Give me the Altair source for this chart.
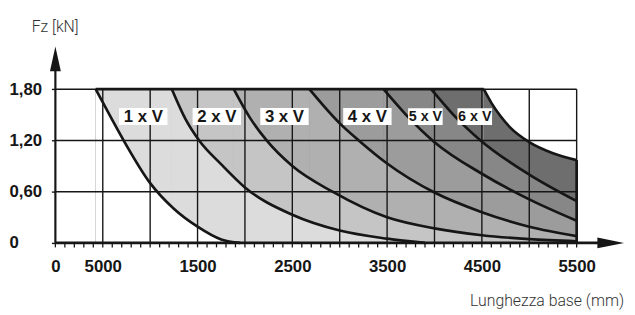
import altair as alt
import pandas as pd

# ---- data (x: base length in mm, y: Fz in kN) ----
c1_x = [425, 600, 720, 1000, 1250, 1500, 1750, 1950]
c1_y = [1.80, 1.44, 1.20, 0.70, 0.40, 0.19, 0.04, 0.0]
c2_x = [1229, 1373, 1517, 1750, 2000, 2500, 3000, 3500, 3900]
c2_y = [1.80, 1.45, 1.20, 0.92, 0.65, 0.33, 0.145, 0.05, 0.0]
c3_x = [1882, 2050, 2229, 2500, 2924, 3500, 4000, 4500, 5000, 5500]
c3_y = [1.80, 1.47, 1.20, 0.90, 0.60, 0.30, 0.17, 0.09, 0.045, 0.02]
c4_x = [2680, 3000, 3201, 3500, 4000, 4500, 5000, 5500]
c4_y = [1.80, 1.40, 1.20, 0.93, 0.59, 0.36, 0.19, 0.08]
c5_x = [3462, 3700, 4000, 4500, 5000, 5500]
c5_y = [1.80, 1.50, 1.18, 0.81, 0.51, 0.26]
c6_x = [3965, 4200, 4486, 5000, 5500]
c6_y = [1.80, 1.50, 1.20, 0.80, 0.49]
env_x = [4520, 4600, 4700, 4800, 5000, 5250, 5500]
env_y = [1.80, 1.64, 1.48, 1.35, 1.18, 1.05, 0.97]

labels = ["1 x V", "2 x V", "3 x V", "4 x V", "5 x V", "6 x V"]
label_x = [927, 1703, 2417, 3292, 3904, 4425]
label_y = 1.48

x_tick_values = [0, 500, 1500, 2500, 3500, 4500, 5500]
x_tick_labels = ["0", "5000", "1500", "2500", "3500", "4500", "5500"]
y_tick_values = [0, 0.6, 1.2, 1.8]
y_tick_labels = ["0", "0,60", "1,20", "1,80"]
grid_x = [500, 1000, 1500, 2000, 2500, 3000, 3500, 4000, 4500, 5000, 5500]
minor_x = list(range(0, 5501, 100))

x_title = "Lunghezza base (mm)"
y_title = "Fz [kN]"

# ---- styling ----
W, H = 576, 199
XDOM, YDOM = [0, 6000], [0, 2.3]
region_colors = ["#ffffff", "#dcdcdc", "#c5c5c5", "#b0b0b0", "#9c9c9c", "#878787", "#6e6e6e"]
INK = "#161616"
BOLD = "Liberation Sans"


def ternary(values, texts):
    expr = "''"
    for v, t in zip(reversed(values), reversed(texts)):
        expr = f"(round(datum.value * 100) == {round(v * 100)} ? '{t}' : {expr})"
    return expr


X_AXIS = alt.Axis(values=x_tick_values, labelExpr=ternary(x_tick_values, x_tick_labels), ticks=False,
                  domain=False, grid=False, labelPadding=16, title=None, labelFlush=False,
                  labelOverlap=False, labelFont=BOLD, labelFontWeight="bold", labelFontSize=17,
                  labelColor=INK, zindex=1)
Y_AXIS = alt.Axis(values=y_tick_values, labelExpr=ternary(y_tick_values, y_tick_labels), ticks=True,
                  tickSize=4, tickColor=INK, tickWidth=1.4, domain=False, grid=False,
                  labelAlign="left", labelPadding=43, title=None, labelOverlap=False,
                  labelFont=BOLD, labelFontWeight="bold", labelFontSize=17, labelColor=INK, zindex=1)


def X(field):
    return alt.X(field, type="quantitative", scale=alt.Scale(domain=XDOM, nice=False, zero=False), axis=X_AXIS)


def Y(field):
    return alt.Y(field, type="quantitative", scale=alt.Scale(domain=YDOM, nice=False, zero=False),
                 axis=Y_AXIS, stack=None)


curves = [(c1_x, c1_y), (c2_x, c2_y), (c3_x, c3_y), (c4_x, c4_y),
          (c5_x, c5_y), (c6_x, c6_y), (env_x, env_y)]

layers = []
# filled regions, painted from the highest boundary down to the lowest
for k in range(len(curves) - 1, -1, -1):
    cx, cy = curves[k]
    col = region_colors[k]
    if cx[0] > c1_x[0]:
        rdf = pd.DataFrame({"x": [c1_x[0]], "x2": [cx[0]], "y": [0.0], "y2": [cy[0]]})
        layers.append(alt.Chart(rdf).mark_rect(color=col, strokeWidth=0).encode(
            x=X("x"), x2="x2", y=Y("y"), y2="y2"))
    adf = pd.DataFrame({"x": cx, "y": cy})
    layers.append(alt.Chart(adf).mark_area(color=col, interpolate="monotone", opacity=1).encode(
        x=X("x"), y=Y("y")))

# horizontal grid lines
hdf = pd.DataFrame({"x0": [0.0] * len(y_tick_values[1:]), "x1": [grid_x[-1]] * len(y_tick_values[1:]),
                    "y": y_tick_values[1:]})
layers.append(alt.Chart(hdf).mark_rule(color=INK, strokeWidth=1.4).encode(
    x=X("x0"), x2="x1", y=Y("y")))

# vertical grid lines
vdf = pd.DataFrame({"x": grid_x, "y0": [0.0] * len(grid_x), "y1": [y_tick_values[-1]] * len(grid_x)})
layers.append(alt.Chart(vdf).mark_rule(color=INK, strokeWidth=1.4).encode(
    x=X("x"), y=Y("y0"), y2="y1"))

# curves
rows = []
for i, (cx, cy) in enumerate(curves):
    for a, b in zip(cx, cy):
        rows.append({"curve": i, "x": a, "y": b})
ldf = pd.DataFrame(rows)
layers.append(alt.Chart(ldf).mark_line(color=INK, strokeWidth=2.7, interpolate="monotone").encode(
    x=X("x"), y=Y("y"), detail="curve:N"))

# thick top edge and right edge of the shaded field
tdf = pd.DataFrame({"x": [c1_x[0]], "x2": [env_x[0]], "y": [c1_y[0]]})
layers.append(alt.Chart(tdf).mark_rule(color=INK, strokeWidth=2.7).encode(x=X("x"), x2="x2", y=Y("y")))
rdf2 = pd.DataFrame({"x": [env_x[-1]], "y": [0.0], "y2": [env_y[-1]]})
layers.append(alt.Chart(rdf2).mark_rule(color=INK, strokeWidth=2.7).encode(x=X("x"), y=Y("y"), y2="y2"))

# minor ticks under x axis
mdf = pd.DataFrame({"x": minor_x})
layers.append(alt.Chart(mdf).mark_rule(color=INK, strokeWidth=1.3).encode(
    x=X("x"), y=alt.value(H), y2=alt.value(H + 4.5)))

# axis lines with arrow heads
one = pd.DataFrame({"a": [0]})
layers.append(alt.Chart(one).mark_rule(color=INK, strokeWidth=2.8).encode(
    x=alt.value(0), x2=alt.value(W - 26), y=alt.value(H)))
layers.append(alt.Chart(one).mark_rule(color=INK, strokeWidth=2.2).encode(
    x=alt.value(0), y=alt.value(H), y2=alt.value(24)))
layers.append(alt.Chart(one).mark_point(shape="M0,-1L0.44,1L-0.44,1Z", size=625, filled=True,
                                        color=INK, opacity=1, strokeWidth=0).encode(
    x=alt.value(0), y=alt.value(12.5)))
layers.append(alt.Chart(one).mark_point(shape="M1,0L-1,0.4L-1,-0.4Z", size=729, filled=True,
                                        color=INK, opacity=1, strokeWidth=0).encode(
    x=alt.value(W - 13.5), y=alt.value(H)))

# region labels with white boxes
lab = pd.DataFrame({"t": labels, "x": label_x, "y": [label_y] * len(labels), "i": range(len(labels))})
wide = lab[lab["i"] < 4]
narrow = lab[lab["i"] >= 4]
layers.append(alt.Chart(wide).mark_point(shape="M-1,-0.35H1V0.35H-1Z", size=49 ** 2, filled=True,
                                         color="white", opacity=1, strokeWidth=0).encode(x=X("x"), y=Y("y")))
layers.append(alt.Chart(narrow).mark_point(shape="M-1,-0.486H1V0.486H-1Z", size=35 ** 2, filled=True,
                                           color="white", opacity=1, strokeWidth=0).encode(x=X("x"), y=Y("y")))
layers.append(alt.Chart(wide).mark_text(font=BOLD, fontWeight="bold", fontSize=17, color=INK,
                                        baseline="middle", dy=1).encode(x=X("x"), y=Y("y"), text="t:N"))
layers.append(alt.Chart(narrow).mark_text(font=BOLD, fontWeight="bold", fontSize=14.5,
                                          color=INK, baseline="middle", dy=1).encode(
    x=X("x"), y=Y("y"), text="t:N"))

# axis titles
layers.append(alt.Chart(pd.DataFrame({"t": [y_title]})).mark_text(
    font="Roboto", fontWeight=300, fontSize=16, color="#333333", align="left", baseline="alphabetic").encode(
    x=alt.value(-24), y=alt.value(-15), text="t:N"))
layers.append(alt.Chart(pd.DataFrame({"t": [x_title]})).mark_text(
    font="Roboto", fontWeight=300, fontSize=16, color="#333333", align="right", baseline="alphabetic").encode(
    x=alt.value(W), y=alt.value(H + 64), text="t:N"))

chart = alt.layer(*layers).properties(
    width=W, height=H,
    autosize=alt.AutoSizeParams(type="none"),
    padding={"left": 48, "top": 37, "right": 3, "bottom": 70},
    background="white",
).configure_view(stroke=None)

chart.save("out.html", embed_options={"renderer": "svg", "actions": False})
